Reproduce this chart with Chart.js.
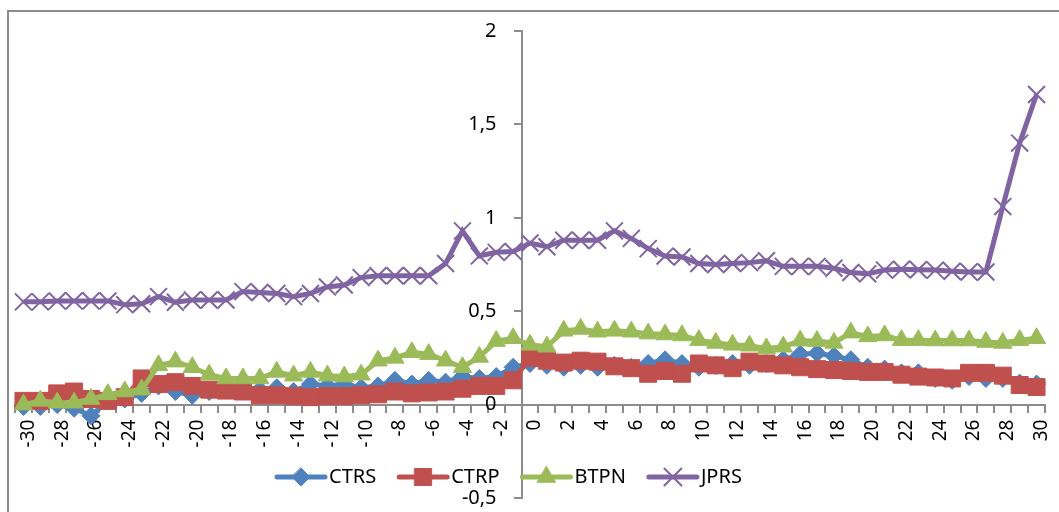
<!DOCTYPE html>
<html><head><meta charset="utf-8">
<script src="https://cdn.jsdelivr.net/npm/chart.js@4/dist/chart.umd.min.js"></script>
<style>html,body{margin:0;padding:0;background:#fff;}#wrap{width:1059px;height:512px;position:relative;}</style>
</head><body><div id="wrap"><canvas id="c" width="1059" height="512"></canvas></div>
<script>
const days = ['-30','-29','-28','-27','-26','-25','-24','-23','-22','-21','-20','-19','-18','-17','-16','-15','-14','-13','-12','-11','-10','-9','-8','-7','-6','-5','-4','-3','-2','-1',
  '0','1','2','3','4','5','6','7','8','9','10','11','12','13','14','15','16','17','18','19','20','21','22','23','24','25','26','27','28','29','30'];
const seriesNames = ['CTRS','CTRP','BTPN','JPRS'];
const ctrs = [-0.01,-0.01,0.00,-0.02,-0.06,0.02,0.03,0.06,0.10,0.07,0.05,0.07,0.08,0.09,0.08,0.09,0.07,0.11,0.10,0.11,0.09,0.10,0.13,0.11,0.13,0.12,0.15,0.14,0.15,0.20,
  0.22,0.21,0.20,0.21,0.20,0.21,0.20,0.22,0.24,0.22,0.20,0.21,0.22,0.21,0.22,0.24,0.27,0.275,0.26,0.24,0.20,0.19,0.17,0.17,0.14,0.13,0.15,0.14,0.14,0.115,0.11];
const ctrp = [0.02,0.02,0.06,0.07,0.03,0.02,0.04,0.14,0.11,0.12,0.10,0.08,0.075,0.07,0.05,0.05,0.045,0.04,0.045,0.045,0.05,0.055,0.07,0.06,0.065,0.07,0.085,0.10,0.10,0.13,
  0.25,0.235,0.225,0.235,0.23,0.205,0.195,0.165,0.18,0.165,0.22,0.21,0.195,0.23,0.22,0.21,0.20,0.19,0.185,0.18,0.175,0.175,0.16,0.15,0.145,0.14,0.17,0.17,0.155,0.105,0.094];
const btpn = [0.00,0.02,0.01,0.01,0.03,0.055,0.07,0.08,0.21,0.23,0.20,0.16,0.14,0.14,0.14,0.175,0.155,0.175,0.155,0.15,0.16,0.235,0.25,0.28,0.27,0.235,0.20,0.255,0.34,0.355,
  0.32,0.31,0.395,0.405,0.39,0.395,0.39,0.38,0.375,0.37,0.345,0.33,0.32,0.315,0.30,0.31,0.342,0.34,0.33,0.385,0.365,0.37,0.345,0.345,0.343,0.343,0.343,0.335,0.33,0.345,0.355];
const jprs = [0.55,0.55,0.555,0.555,0.555,0.555,0.535,0.54,0.578,0.548,0.56,0.56,0.56,0.605,0.60,0.595,0.578,0.595,0.63,0.64,0.68,0.69,0.69,0.69,0.69,0.755,0.93,0.796,0.815,0.82,
  0.865,0.845,0.88,0.88,0.88,0.93,0.89,0.835,0.795,0.79,0.755,0.75,0.755,0.76,0.77,0.74,0.74,0.74,0.73,0.707,0.70,0.72,0.725,0.722,0.72,0.714,0.71,0.71,1.06,1.40,1.66];
const yTickValues = [-0.5, 0, 0.5, 1, 1.5, 2];

const FONT = "'Noto Sans', 'Liberation Sans', sans-serif";
const AXIS = '#8c8c8c';

const frame = {
  id: 'frame',
  beforeDraw(chart) {
    const ctx = chart.ctx;
    ctx.save();
    ctx.fillStyle = '#fff';
    ctx.fillRect(0, 0, chart.width, chart.height);
    ctx.strokeStyle = '#8a8a8a';
    ctx.lineWidth = 2;
    ctx.strokeRect(8, 11, chart.width + 20, chart.height + 20);
    ctx.restore();
  }
};

function marker(ctx, ds, x, y) {
  const r = ds.pointRadius;
  ctx.save();
  ctx.fillStyle = ds.pointBackgroundColor;
  ctx.strokeStyle = ds.pointBorderColor;
  ctx.lineWidth = ds.pointBorderWidth;
  ctx.beginPath();
  if (ds.pointStyle === 'rectRot') {
    ctx.moveTo(x, y - r); ctx.lineTo(x + r, y); ctx.lineTo(x, y + r); ctx.lineTo(x - r, y); ctx.closePath();
    ctx.fill(); ctx.stroke();
  } else if (ds.pointStyle === 'rect') {
    const s = r * Math.SQRT1_2;
    ctx.rect(x - s, y - s, 2 * s, 2 * s); ctx.fill(); ctx.stroke();
  } else if (ds.pointStyle === 'triangle') {
    ctx.moveTo(x, y - r);
    ctx.lineTo(x + r * Math.sin(2 * Math.PI / 3), y - r * Math.cos(2 * Math.PI / 3));
    ctx.lineTo(x + r * Math.sin(4 * Math.PI / 3), y - r * Math.cos(4 * Math.PI / 3));
    ctx.closePath(); ctx.fill(); ctx.stroke();
  } else {
    const d = r * Math.SQRT1_2;
    ctx.moveTo(x - d, y - d); ctx.lineTo(x + d, y + d);
    ctx.moveTo(x + d, y - d); ctx.lineTo(x - d, y + d);
    ctx.stroke();
  }
  ctx.restore();
}

const legendPlugin = {
  id: 'customLegend',
  afterDraw(chart) {
    const ctx = chart.ctx;
    ctx.save();
    ctx.font = '20px ' + FONT;
    ctx.textBaseline = 'middle';
    ctx.textAlign = 'left';
    let x = 277;
    const y = 477;
    chart.data.datasets.forEach(ds => {
      ctx.strokeStyle = ds.borderColor;
      ctx.lineWidth = ds.borderWidth;
      ctx.lineCap = 'round';
      ctx.beginPath(); ctx.moveTo(x, y); ctx.lineTo(x + 48, y); ctx.stroke();
      marker(ctx, ds, x + 24, y);
      ctx.fillStyle = '#000';
      ctx.fillText(ds.label, x + 52, y);
      x += 52 + ctx.measureText(ds.label).width + 23;
    });
    ctx.restore();
  }
};

function mk(label, data, color, style, radius, order, bw) {
  return {
    label, data, order,
    borderColor: color, backgroundColor: color,
    borderWidth: 5, tension: 0,
    pointStyle: style, pointRadius: radius,
    pointBackgroundColor: color, pointBorderColor: color, pointBorderWidth: bw,
    pointHoverRadius: radius
  };
}

const Y_LABEL_GAP = 25;

new Chart(document.getElementById('c'), {
  type: 'line',
  data: {
    labels: days,
    datasets: [
      mk(seriesNames[0], ctrs, '#4F81BD', 'rectRot', 9, 4, 1),
      mk(seriesNames[1], ctrp, '#C0504D', 'rect', 12, 3, 1),
      mk(seriesNames[2], btpn, '#9BBB59', 'triangle', 10.5, 2, 1),
      mk(seriesNames[3], jprs, '#8064A2', 'crossRot', 12, 1, 2)
    ]
  },
  options: {
    responsive: false,
    devicePixelRatio: 1,
    animation: false,
    layout: { padding: { left: 15, top: 31, right: 9, bottom: 11 } },
    plugins: { legend: { display: false }, tooltip: { enabled: false } },
    font: { family: FONT },
    scales: {
      x: {
        type: 'category',
        position: { y: 0 },
        offset: true,
        grid: { offset: true, drawOnChartArea: false, drawTicks: true, tickLength: 7, color: AXIS, lineWidth: 2 },
        border: { display: true, color: AXIS, width: 2 },
        ticks: {
          autoSkip: false, minRotation: 90, maxRotation: 90, padding: 8, labelOffset: 5,
          color: '#000', font: { family: FONT, size: 19 },
          callback: function (v) { const l = this.getLabelForValue(v); return Number(l) % 2 === 0 ? l : ''; }
        },
        afterFit(s) { s.paddingLeft = 0; s.paddingRight = 0; }
      },
      y: {
        type: 'linear',
        position: { x: 29.5 },
        min: -0.5, max: 2,
        afterBuildTicks(s) { s.ticks = yTickValues.map(v => ({ value: v })); },
        grid: { drawOnChartArea: false, drawTicks: true, tickLength: 7, color: AXIS, lineWidth: 2 },
        border: { display: true, color: AXIS, width: 2 },
        ticks: {
          padding: 18, color: '#000', font: { family: FONT, size: 20 },
          callback: v => String(v).replace('.', ',')
        },
        afterFit(s) {
          s.paddingTop = 0; s.paddingBottom = 0;
          if (!s._gapPatched && typeof s._computeLabelItems === 'function') {
            const orig = s._computeLabelItems;
            s._computeLabelItems = function (ca) {
              const items = orig.call(this, ca);
              items.forEach(it => {
                if (it.options && it.options.translation) it.options.translation[0] -= Y_LABEL_GAP;
              });
              return items;
            };
            s._gapPatched = true;
          }
        }
      }
    }
  },
  plugins: [frame, legendPlugin]
});
</script>
</body></html>
